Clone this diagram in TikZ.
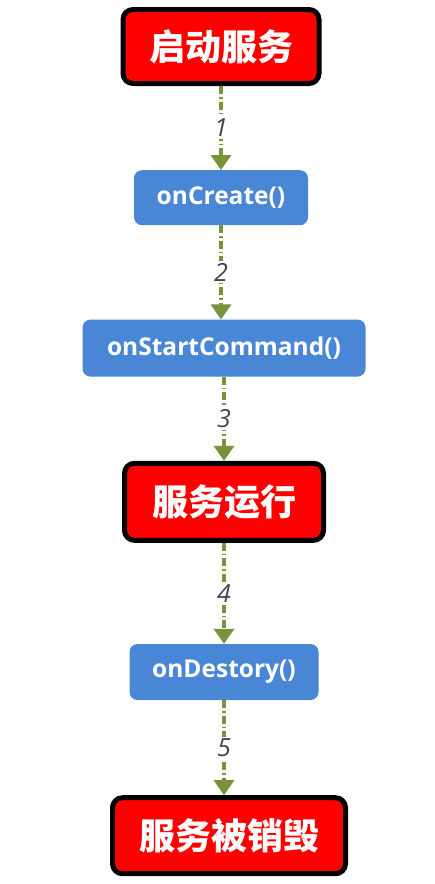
\documentclass[tikz,border=0pt]{standalone}
\usepackage{fontspec}
\usepackage{xcolor}
\usepackage{tikz}
\usetikzlibrary{positioning,arrows.meta}
\newfontfamily\cjk{Noto Sans CJK SC}
\setsansfont{Open Sans}
\definecolor{stopred}{HTML}{FF0000}
\definecolor{callblue}{HTML}{4A86D6}
\definecolor{flowgreen}{HTML}{77933C}
\definecolor{numgray}{HTML}{444444}

\begin{document}
\begin{tikzpicture}[
        node distance=84pt,
        state/.style={
            rectangle,
            draw=black,
            line width=5pt,
            fill=stopred,
            text=white,
            rounded corners=10pt,
            font=\cjk\bfseries\fontsize{36}{36}\selectfont
        },
        call/.style={
            rectangle,
            fill=callblue,
            text=white,
            rounded corners=8pt,
            font=\sffamily\bfseries\fontsize{24.5}{24.5}\selectfont
        },
        flow/.style={
            -{Triangle[width=20pt,length=15pt]},
            line width=3.5pt,
            color=flowgreen,
            dash pattern=on 8pt off 3pt on 1.5pt off 3pt
        },
        num/.style={
            fill=white,
            text=numgray,
            inner sep=2pt,
            font=\sffamily\itshape\fontsize{25}{25}\selectfont
        }
    ]
        \useasboundingbox (0,0) rectangle (434pt,-884pt);
        \node (start) [state, minimum width=196pt, minimum height=74pt] at (221pt,-46.5pt) {启动服务};
        \node (create) [call, minimum width=174pt, minimum height=55pt, below=84pt of start] {onCreate()};
        \node (command) [call, minimum width=283pt, minimum height=57pt, below=94pt of create, xshift=3pt] {onStartCommand()};
        \node (running) [state, minimum width=199pt, minimum height=77pt, below=84pt of command] {服务运行};
        \node (destroy) [call, minimum width=189pt, minimum height=56pt, below=101pt of running] {onDestory()};
        \node (dead) [state, minimum width=233pt, minimum height=76pt, below=95pt of destroy, xshift=5pt] {服务被销毁};

        \draw[flow] (start) -- node[num] {1} (start |- create.north);
        \draw[flow] (create) -- node[num] {2} (create |- command.north);
        \draw[flow] (command) -- node[num] {3} (command |- running.north);
        \draw[flow] (running) -- node[num] {4} (running |- destroy.north);
        \draw[flow] (destroy) -- node[num] {5} (destroy |- dead.north);
    \end{tikzpicture}
\end{document}
